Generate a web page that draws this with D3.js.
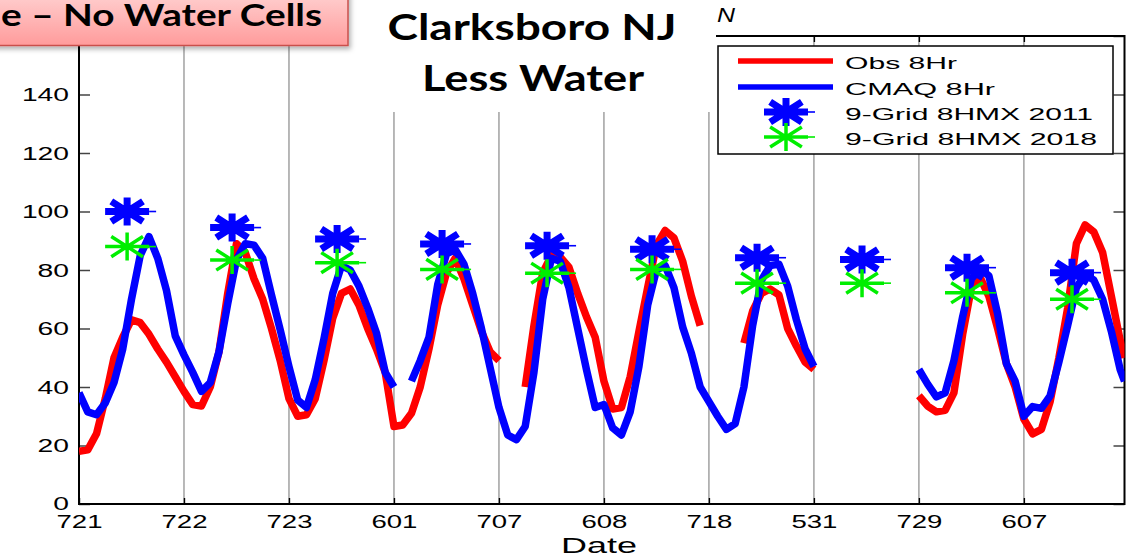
<!DOCTYPE html>
<html>
<head>
<meta charset="utf-8">
<script src="https://cdn.jsdelivr.net/npm/d3@7"></script>
<style>
  html, body { margin: 0; padding: 0; background: #fff; overflow: hidden; }
  svg { display: block; }
</style>
</head>
<body>
<svg id="chart" width="1133" height="558"></svg>
<script>
// ---- data -------------------------------------------------------------
// Episode days shown side by side (MDD), 24 hourly slots each
const dateLabels = ["721", "722", "723", "601", "707", "608", "718", "531", "729", "607"];

// Sample hours along the concatenated time axis
const sampleHours = [
  0, 2, 4, 6, 8, 10, 12, 14, 16, 18, 20, 22,
  24, 26, 28, 30, 32, 34, 36, 38, 40, 42, 44, 46,
  48, 50, 52, 54, 56, 58, 60, 62, 64, 66, 68, 70,
  72, 74, 76, 78, 80, 82, 84, 86, 88, 90, 92, 94,
  96, 98, 100, 102, 104, 106, 108, 110, 112, 114, 116, 118,
  120, 122, 124, 126, 128, 130, 132, 134, 136, 138, 140, 142,
  144, 146, 148, 150, 152, 154, 156, 158, 160, 162, 164, 166,
  168, 170, 172, 174, 176, 178, 180, 182, 184, 186, 188, 190,
  192, 194, 196, 198, 200, 202, 204, 206, 208, 210, 212, 214,
  216, 218, 220, 222, 224, 226, 228, 230, 232, 234, 236, 238,
  239
];

// Observed 8-hr ozone (ppb); null = missing
const obs8Hr = [
  18, 18.5, 24, 36, 50, 57, 63, 62, 58, 53, 48.5, 43.5,
  38.5, 34, 33.5, 40, 52, 72, 89, 86, 77, 70, 60, 49,
  36, 30, 30.5, 36, 49, 63.5, 72, 73.5, 68, 60, 53, 45,
  26.5, 27, 31, 40, 53, 68, 79, 84, 77, 68, 59, 52,
  49, null, null, 40, 61, 79, 85, 84.5, 81, 72, 64, 57,
  42, 32.5, 33, 43.5, 59, 74, 88.5, 93.5, 91, 83, 71, 61,
  null, null, null, null, 55, 66, 72, 73.5, 71.5, 60, 54, 48.5,
  46, null, null, null, null, null, null, null, null, null, null, null,
  37, 33.5, 31.5, 32, 38, 58, 74, 77.5, 71, 60, 48, 40,
  29, 24, 25.5, 35, 50, 67, 89, 95.4, 93, 86, 71, 56,
  50
];

// CMAQ modelled 8-hr ozone (ppb); null = missing
const cmaq8Hr = [
  38, 31.5, 30.5, 34.5, 41.5, 53, 70, 85, 91.4, 84, 73, 57.5,
  51, 45, 38.5, 41.5, 52, 68.5, 83.5, 89, 88.5, 84, 71.5, 59.5,
  47, 35.5, 33, 42.5, 56.5, 72, 81.5, 80, 74.5, 67, 58.5, 45,
  40, null, 42, 49, 57, 75, 85.5, 87, 82, 72, 60, 46.5,
  33, 23.6, 22, 26.5, 45, 70, 84, 83, 74, 60, 46, 33,
  34, 26, 23.6, 31.5, 47, 68, 80, 81.5, 74, 60.5, 51.5, 40,
  35, 30, 25.5, 27.5, 40, 61, 76.5, 81.5, 82, 74.5, 63, 53,
  47, null, null, null, null, null, null, null, null, null, null, null,
  46, 41, 36.6, 38, 49, 64, 77, 80.5, 78, 65, 48, 42,
  30, 33.3, 32.7, 37, 48.5, 61, 74, 78.5, 76.5, 70, 59, 46,
  42
];

// Daily 9-grid maximum 8-hr values, placed at hour 11 of each day
const markerHour = 11;
const grid8hmx2011 = [100, 94.5, 90.6, 88.9, 88.3, 87.1, 84.2, 83.6, 80.8, 79.1];
const grid8hmx2018 = [88.0, 83.4, 82.5, 80.2, 78.9, 80.2, 75.5, 75.5, 72.2, 70.0];

const yTickValues = [0, 20, 40, 60, 80, 100, 120, 140, 160];
const yTickLabels = ["0", "20", "40", "60", "80", "100", "120", "140"];

const legendItems = [
  { label: "Obs 8Hr", kind: "line", color: "#ff0000", len: 112 },
  { label: "CMAQ 8Hr", kind: "line", color: "#0000ff", len: 150 },
  { label: "9-Grid 8HMX 2011", kind: "star2011", color: "#0000ff", len: 248 },
  { label: "9-Grid 8HMX 2018", kind: "star2018", color: "#00ee00", len: 252 }
];

// ---- layout -------------------------------------------------------------
const svg = d3.select("#chart");
const plot = { left: 79, right: 1124.5, top: 36, bottom: 504 };
const dayHours = 24;
const dayStarts = dateLabels.map((_, i) => i * dayHours);

const x = d3.scaleLinear().domain([0, 239]).range([plot.left, plot.right]);
const y = d3.scaleLinear().domain([0, 160]).range([plot.bottom, plot.top]);

const defs = svg.append("defs");
defs.append("clipPath").attr("id", "plotClip")
  .append("rect")
  .attr("x", plot.left).attr("y", plot.top)
  .attr("width", plot.right - plot.left).attr("height", plot.bottom - plot.top);

const grad = defs.append("linearGradient").attr("id", "pinkGrad")
  .attr("x1", 0).attr("y1", 0).attr("x2", 0).attr("y2", 1);
grad.append("stop").attr("offset", "0%").attr("stop-color", "#ffd3d3");
grad.append("stop").attr("offset", "100%").attr("stop-color", "#ff9b9b");

const shadow = defs.append("filter").attr("id", "boxShadow")
  .attr("x", "-10%").attr("y", "-20%").attr("width", "130%").attr("height", "160%");
shadow.append("feDropShadow").attr("dx", 2).attr("dy", 3)
  .attr("stdDeviation", 2.5).attr("flood-color", "#000").attr("flood-opacity", 0.3);

// helper: text squeezed/stretched to a given width
function stretchedText(g, txt, opts) {
  const t = g.append("text")
    .attr("x", opts.x).attr("y", opts.y)
    .attr("font-family", opts.family || "'Liberation Sans', Arial, Helvetica, sans-serif")
    .attr("font-size", opts.size)
    .attr("font-weight", opts.weight || "normal")
    .attr("text-anchor", opts.anchor || "start")
    .attr("fill", opts.fill || "#000")
    .text(txt);
  if (opts.len) t.attr("textLength", opts.len).attr("lengthAdjust", "spacingAndGlyphs");
  if (opts.style) t.attr("font-style", opts.style);
  return t;
}

// ---- vertical grid at day boundaries ---------------------------------------
svg.append("g")
  .selectAll("line")
  .data(dayStarts.slice(1))
  .join("line")
  .attr("x1", d => x(d)).attr("x2", d => x(d))
  .attr("y1", plot.top).attr("y2", plot.bottom)
  .attr("stroke", "#9a9a9a").attr("stroke-width", 1.4);

// ---- axes box ---------------------------------------------------------------
const axisG = svg.append("g");

// bottom axis: ticks pointing inward
const xAxis = d3.axisBottom(x)
  .tickValues(dayStarts)
  .tickFormat((d, i) => dateLabels[i])
  .tickSizeInner(-6).tickSizeOuter(0).tickPadding(0);
const xg = axisG.append("g").attr("transform", `translate(0,${plot.bottom})`).call(xAxis);
xg.select(".domain").remove();
xg.selectAll(".tick line").attr("stroke", "#000").attr("stroke-width", 1.4);
xg.selectAll(".tick text").remove();
xg.selectAll(".tick").each(function (d, i) {
  stretchedText(d3.select(this), dateLabels[i], { x: 0, y: 23.5, size: 18.5, anchor: "middle", len: 46 });
});

// top axis ticks
const xTop = d3.axisTop(x).tickValues(dayStarts).tickFormat("").tickSizeInner(-6).tickSizeOuter(0);
const xtg = axisG.append("g").attr("transform", `translate(0,${plot.top})`).call(xTop);
xtg.select(".domain").remove();
xtg.selectAll(".tick line").attr("stroke", "#000").attr("stroke-width", 1.4);

// left axis
const yAxis = d3.axisLeft(y).tickValues(yTickValues).tickFormat("").tickSizeInner(-11).tickSizeOuter(0);
const yg = axisG.append("g").attr("transform", `translate(${plot.left},0)`).call(yAxis);
yg.select(".domain").remove();
yg.selectAll(".tick line").attr("stroke", "#444").attr("stroke-width", 1.5);
yg.selectAll(".tick").filter((d, i) => i < yTickLabels.length).each(function (d, i) {
  const lbl = yTickLabels[i];
  stretchedText(d3.select(this), lbl, { x: -10, y: i === 0 ? 5 : 6.3, size: 17.5, anchor: "end", len: 15.7 * lbl.length });
});

// right axis ticks
const yRight = d3.axisRight(y).tickValues(yTickValues).tickFormat("").tickSizeInner(-11).tickSizeOuter(0);
const yrg = axisG.append("g").attr("transform", `translate(${plot.right},0)`).call(yRight);
yrg.select(".domain").remove();
yrg.selectAll(".tick line").attr("stroke", "#444").attr("stroke-width", 1.5);

// frame
axisG.append("rect")
  .attr("x", plot.left).attr("y", plot.top)
  .attr("width", plot.right - plot.left).attr("height", plot.bottom - plot.top)
  .attr("fill", "none").attr("stroke", "#000").attr("stroke-width", 2);

// axis title
stretchedText(svg, "Date", { x: 599, y: 553, size: 22, anchor: "middle", len: 76 });

// ---- series -----------------------------------------------------------------
const seriesG = svg.append("g").attr("clip-path", "url(#plotClip)");
const lineGen = d3.line()
  .defined(d => d.v !== null)
  .x(d => x(d.h))
  .y(d => y(d.v));

const obsPts = sampleHours.map((h, i) => ({ h, v: obs8Hr[i] }));
const cmaqPts = sampleHours.map((h, i) => ({ h, v: cmaq8Hr[i] }));

seriesG.append("path").datum(obsPts)
  .attr("d", lineGen).attr("fill", "none")
  .attr("stroke", "#ff0000").attr("stroke-width", 7.5)
  .attr("stroke-linejoin", "round").attr("stroke-linecap", "butt");

seriesG.append("path").datum(cmaqPts)
  .attr("d", lineGen).attr("fill", "none")
  .attr("stroke", "#0000ff").attr("stroke-width", 7.5)
  .attr("stroke-linejoin", "round").attr("stroke-linecap", "butt");

// asterisk marker (plus + cross), wider than tall
function asteriskPath(rx, ry) {
  const a = rx * 0.72, b = ry * 0.72;
  return `M${-rx},0H${rx}M0,${-ry}V${ry}M${-a},${-b}L${a},${b}M${-a},${b}L${a},${-b}`;
}
function drawStar(g, cx, cy, style) {
  const s = g.append("g").attr("transform", `translate(${cx},${cy})`);
  s.append("path").attr("d", asteriskPath(style.rx, style.ry))
    .attr("fill", "none").attr("stroke", style.color).attr("stroke-width", style.w);
  s.append("line").attr("x1", style.rx).attr("x2", style.rx + 7).attr("y1", 0).attr("y2", 0)
    .attr("stroke", style.color).attr("stroke-width", 1.6);
}
const star2011 = { rx: 22, ry: 14, w: 7, color: "#0000ff" };
const star2018 = { rx: 22, ry: 14, w: 3.5, color: "#00ee00" };

const markG = svg.append("g");
grid8hmx2011.forEach((v, i) => drawStar(markG, x(i * dayHours + markerHour), y(v), star2011));
grid8hmx2018.forEach((v, i) => drawStar(markG, x(i * dayHours + markerHour), y(v), star2018));

// ---- legend -------------------------------------------------------------------
const leg = svg.append("g");
leg.append("rect").attr("x", 718).attr("y", 46).attr("width", 395).attr("height", 108)
  .attr("fill", "#fff").attr("stroke", "#000").attr("stroke-width", 1.5);
const rowY = [62, 88, 113, 138];
legendItems.forEach((it, i) => {
  const cy = rowY[i];
  if (it.kind === "line") {
    leg.append("line").attr("x1", 738).attr("x2", 833).attr("y1", cy - 1).attr("y2", cy - 1)
      .attr("stroke", it.color).attr("stroke-width", 5.5);
  } else {
    drawStar(leg, 786, cy - 1, it.kind === "star2011" ? star2011 : star2018);
  }
  stretchedText(leg, it.label, { x: 845, y: cy + 6.5, size: 16.5, len: it.len });
});

// ---- slide overlays: title panel and banner -------------------------------------
svg.append("rect").attr("x", 340).attr("y", 0).attr("width", 376).attr("height", 112).attr("fill", "#fff");

stretchedText(svg, "Clarksboro NJ", { x: 532, y: 40, size: 36, weight: 700,
  family: "Lato, 'Open Sans', sans-serif", anchor: "middle", len: 289 });
stretchedText(svg, "Less Water", { x: 533, y: 91, size: 36, weight: 700,
  family: "Lato, 'Open Sans', sans-serif", anchor: "middle", len: 222 });

stretchedText(svg, "N", { x: 717, y: 22, size: 21, style: "italic", len: 18 });

svg.append("rect").attr("x", -10).attr("y", -10).attr("width", 358).attr("height", 55.5)
  .attr("fill", "url(#pinkGrad)").attr("stroke", "#c9504c").attr("stroke-width", 1.5)
  .attr("filter", "url(#boxShadow)");
stretchedText(svg, "e \u2013 No Water Cells", { x: 1, y: 26, size: 31, weight: 700,
  family: "Lato, 'Open Sans', sans-serif", len: 321 });
</script>
</body>
</html>
